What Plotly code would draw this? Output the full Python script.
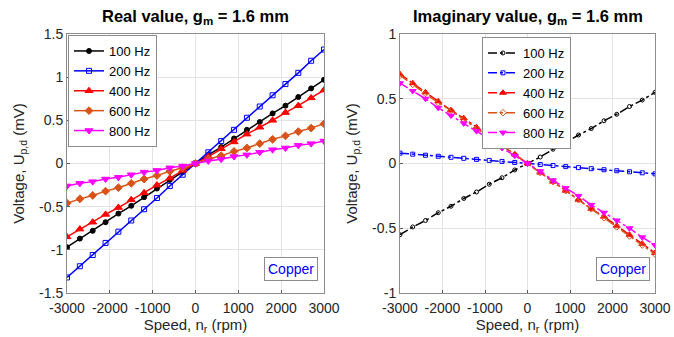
import plotly.graph_objects as go

speed = [-3000, -2700, -2400, -2100, -1800, -1500, -1200, -900, -600, -300, 0,
         300, 600, 900, 1200, 1500, 1800, 2100, 2400, 2700, 3000]

labels = ["100 Hz", "200 Hz", "400 Hz", "600 Hz", "800 Hz"]

real_100 = [-0.97, -0.87, -0.78, -0.68, -0.58, -0.49, -0.39, -0.29, -0.19, -0.10, 0.00,
            0.10, 0.19, 0.29, 0.39, 0.48, 0.58, 0.67, 0.77, 0.87, 0.97]
real_200 = [-1.32, -1.19, -1.06, -0.92, -0.79, -0.66, -0.53, -0.40, -0.26, -0.13, 0.00,
            0.13, 0.26, 0.39, 0.53, 0.66, 0.79, 0.92, 1.05, 1.19, 1.32]
real_400 = [-0.85, -0.76, -0.68, -0.59, -0.51, -0.42, -0.34, -0.25, -0.17, -0.08, 0.00,
            0.08, 0.17, 0.25, 0.34, 0.42, 0.50, 0.59, 0.67, 0.76, 0.85]
real_600 = [-0.46, -0.41, -0.37, -0.32, -0.28, -0.23, -0.18, -0.14, -0.09, -0.05, 0.00,
            0.05, 0.09, 0.14, 0.18, 0.23, 0.28, 0.32, 0.37, 0.41, 0.46]
real_800 = [-0.26, -0.23, -0.21, -0.18, -0.16, -0.13, -0.10, -0.08, -0.05, -0.03, 0.00,
            0.03, 0.05, 0.08, 0.10, 0.13, 0.16, 0.18, 0.21, 0.23, 0.26]

imag_100 = [-0.55, -0.49, -0.44, -0.38, -0.33, -0.27, -0.22, -0.16, -0.11, -0.05, 0.00,
            0.05, 0.11, 0.16, 0.22, 0.27, 0.33, 0.38, 0.44, 0.49, 0.55]
imag_200 = [0.080, 0.072, 0.064, 0.056, 0.048, 0.040, 0.032, 0.024, 0.016, 0.008, 0.000,
            -0.008, -0.016, -0.024, -0.032, -0.040, -0.048, -0.056, -0.064, -0.072, -0.080]
imag_400 = [0.69, 0.62, 0.55, 0.48, 0.41, 0.35, 0.28, 0.21, 0.14, 0.07, 0.00,
            -0.07, -0.14, -0.21, -0.28, -0.35, -0.41, -0.48, -0.55, -0.62, -0.69]
imag_600 = [0.68, 0.61, 0.54, 0.47, 0.41, 0.34, 0.27, 0.20, 0.14, 0.07, 0.00,
            -0.07, -0.14, -0.21, -0.28, -0.35, -0.42, -0.49, -0.56, -0.63, -0.70]
imag_800 = [0.62, 0.56, 0.50, 0.43, 0.37, 0.31, 0.25, 0.19, 0.12, 0.06, 0.00,
            -0.06, -0.13, -0.19, -0.25, -0.32, -0.38, -0.44, -0.50, -0.57, -0.63]

x_ticks = [-3000, -2000, -1000, 0, 1000, 2000, 3000]
x_ticktext = ["-3000", "-2000", "-1000", "0", "1000", "2000", "3000"]
yl_ticks = [-1.5, -1, -0.5, 0, 0.5, 1, 1.5]
yl_ticktext = ["-1.5", "-1", "-0.5", "0", "0.5", "1", "1.5"]
yr_ticks = [-1, -0.5, 0, 0.5, 1]
yr_ticktext = ["-1", "-0.5", "0", "0.5", "1"]

colors = ["#000000", "#0000FF", "#FF0000", "#D95319", "#FF00FF"]
symbols_l = ["circle", "square-open", "triangle-up", "diamond", "triangle-down"]
symbols_r = ["circle-open", "square-open", "triangle-up", "diamond-open", "triangle-down"]
sizes = [5, 5, 7, 6, 7]

real_series = [real_100, real_200, real_400, real_600, real_800]
imag_series = [imag_100, imag_200, imag_400, imag_600, imag_800]

fig = go.Figure()
for lab, ys, c, s, sz in zip(labels, real_series, colors, symbols_l, sizes):
    fig.add_trace(go.Scatter(x=speed, y=ys, name=lab, mode="lines+markers",
                             line=dict(color=c, width=1.5),
                             marker=dict(symbol=s, size=sz, color=c, line=dict(color=c, width=1)),
                             xaxis="x", yaxis="y", legend="legend"))
for lab, ys, c, s, sz in zip(labels, imag_series, colors, symbols_r, sizes):
    fig.add_trace(go.Scatter(x=speed, y=ys, name=lab, mode="lines+markers",
                             line=dict(color=c, width=1.5, dash="dashdot"),
                             marker=dict(symbol=s, size=sz - 1, color=c, line=dict(color=c, width=1)),
                             xaxis="x2", yaxis="y2", legend="legend2"))

W, H = 674, 337
ax_common = dict(showgrid=True, gridcolor="#e3e3e3", gridwidth=1, zeroline=False,
                 showline=True, linecolor="#8c8c8c", linewidth=1, mirror=True,
                 ticks="inside", ticklen=3, tickcolor="#5a5a5a", automargin=False,
                 tickfont=dict(family="Liberation Sans, Arial", size=14, color="#262626"))
ydom = [1 - 293 / H, 1 - 34 / H]
title_font = dict(size=15, color="#262626")

fig.update_layout(
    width=W, height=H, margin=dict(l=0, r=0, t=0, b=0, autoexpand=False),
    paper_bgcolor="white", plot_bgcolor="white",
    font=dict(family="Liberation Sans, Arial", color="#262626"),
    xaxis=dict(domain=[67 / W, 324 / W], range=[-3000, 3000], tickvals=x_ticks, ticktext=x_ticktext,
               ticklabelstandoff=2,
               title=dict(text="Speed, n<sub>r</sub> (rpm)", font=title_font, standoff=4),
               anchor="y", **ax_common),
    yaxis=dict(domain=ydom, range=[-1.5, 1.5], tickvals=yl_ticks, ticktext=yl_ticktext,
               title=dict(text="Voltage, U<sub>p,d</sub> (mV)", font=title_font, standoff=10),
               anchor="x", **ax_common),
    xaxis2=dict(domain=[400 / W, 655 / W], range=[-3000, 3000], tickvals=x_ticks, ticktext=x_ticktext,
                ticklabelstandoff=2,
                title=dict(text="Speed, n<sub>r</sub> (rpm)", font=title_font, standoff=4),
                anchor="y2", **ax_common),
    yaxis2=dict(domain=ydom, range=[-1, 1], tickvals=yr_ticks, ticktext=yr_ticktext,
                title=dict(text="Voltage, U<sub>p,d</sub> (mV)", font=title_font, standoff=10),
                anchor="x2", **ax_common),
    legend=dict(x=68 / W, y=1 - 35 / H, xanchor="left", yanchor="top",
                bgcolor="white", bordercolor="#8c8c8c", borderwidth=1,
                font=dict(size=13, color="#000000"), itemwidth=30, tracegroupgap=0),
    legend2=dict(x=482 / W, y=1 - 37 / H, xanchor="left", yanchor="top",
                 bgcolor="white", bordercolor="#8c8c8c", borderwidth=1,
                 font=dict(size=13, color="#000000"), itemwidth=30, tracegroupgap=0),
    annotations=[
        dict(text="<b>Real value, g<sub>m</sub> = 1.6 mm</b>", x=(67 + 324) / 2 / W, y=1 - 5 / H,
             xref="paper", yref="paper", xanchor="center", yanchor="top", showarrow=False,
             font=dict(size=16.5, color="#000000")),
        dict(text="<b>Imaginary value, g<sub>m</sub> = 1.6 mm</b>", x=(400 + 655) / 2 / W, y=1 - 5 / H,
             xref="paper", yref="paper", xanchor="center", yanchor="top", showarrow=False,
             font=dict(size=16.5, color="#000000")),
        dict(text="Copper", x=318 / W, y=1 - 281 / H, xref="paper", yref="paper",
             xanchor="right", yanchor="bottom", showarrow=False, bgcolor="white",
             bordercolor="#8c8c8c", borderwidth=1, borderpad=3,
             font=dict(size=14, color="#0000FF")),
        dict(text="Copper", x=650 / W, y=1 - 281 / H, xref="paper", yref="paper",
             xanchor="right", yanchor="bottom", showarrow=False, bgcolor="white",
             bordercolor="#8c8c8c", borderwidth=1, borderpad=3,
             font=dict(size=14, color="#0000FF")),
    ],
)

fig.write_html("out.html")
